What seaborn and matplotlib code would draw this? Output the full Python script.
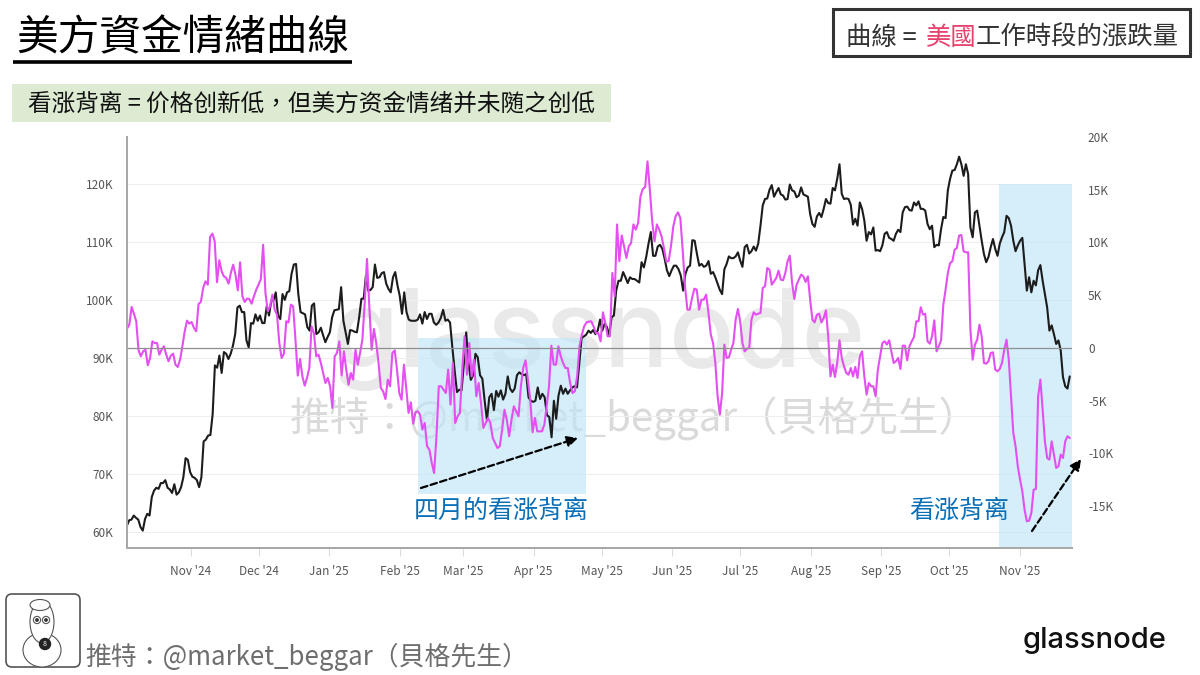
import pandas as pd
import matplotlib
matplotlib.use("Agg")
import matplotlib.pyplot as plt
import matplotlib.dates as mdates
from matplotlib.patches import Circle, Ellipse, FancyBboxPatch, Rectangle
from matplotlib.ticker import FuncFormatter
import seaborn as sns

# Bitcoin price, thousand USD, roughly one value per day, three stretches
price_a = [
    61.1, 62.0, 62.1, 62.8, 62.4, 62.1, 60.8, 60.2, 62.2, 63.1, 62.8, 66.0, 67.1, 67.6, 67.4, 68.4,
    68.4, 68.9, 67.6, 67.3, 66.7, 68.2, 66.4, 66.8, 67.7, 69.4, 72.7, 72.4, 70.3, 69.5, 69.3, 68.9,
    67.7, 69.4, 75.6, 75.9, 76.6, 76.7, 80.3, 88.7, 88.3, 90.4, 87.4, 91.0, 90.7, 89.8, 90.7, 92.1,
    94.1, 98.7, 99.0, 97.9, 97.9, 93.0, 91.8, 96.0, 95.9, 97.5, 96.4, 97.3, 96.0, 96.0, 98.9, 97.3,
    99.8, 99.9, 101.3, 97.3, 96.7, 101.0, 100.0, 101.3, 101.5, 104.5, 106.1, 106.2, 101.0, 97.9,
    97.7, 97.5, 95.3, 94.7, 99.0, 99.4, 94.1, 94.4, 95.2, 93.9, 92.7, 93.6, 94.4, 97.0, 98.2, 98.3,
    98.4, 102.2, 96.4, 94.4, 92.4, 94.8, 94.7, 94.5, 94.4, 97.0, 100.2, 100.2, 104.2, 101.6, 101.7,
    102.2, 106.1, 103.8, 103.9, 104.6, 104.8, 102.8, 101.9, 101.3, 103.9, 104.8, 102.5, 100.7, 97.6,
    101.3, 97.9, 96.6, 96.4, 96.4, 96.4, 96.6,
]
price_b = [
    97.5, 95.9, 97.9, 96.7, 97.6, 97.6, 96.1, 95.7, 96.1, 96.9, 98.3, 96.4, 96.6, 96.1, 91.8, 87.8,
    84.1, 84.5, 84.4, 89.0, 94.4, 89.0, 86.2, 87.0, 90.7, 90.1, 87.0, 86.4, 82.6, 79.2, 83.2, 83.8,
    81.0, 84.3, 83.3, 84.4, 82.8, 83.8, 86.8, 84.7, 84.1, 84.7, 87.0, 87.5, 87.2, 87.0, 87.2, 83.2,
    82.6, 82.4, 82.6, 84.9, 82.9, 83.8, 83.2, 80.1, 79.8, 76.3, 82.6, 79.5, 83.5, 85.2, 83.8, 84.7,
    83.8, 84.4, 84.9, 85.1, 84.9, 89.0, 93.4, 93.7, 94.0, 94.7, 94.3, 94.8, 94.1, 94.7, 96.6, 94.7,
    95.9, 95.3, 93.9, 97.0, 97.3, 101.6, 103.3, 103.3, 104.8, 103.9, 102.9, 103.9, 103.6, 103.6,
    103.3, 103.0, 106.5, 105.6, 107.4, 109.7, 111.7, 107.6, 107.6, 109.2, 109.5, 108.8, 107.1, 105.1,
    104.1, 105.1, 105.9, 105.9, 105.3, 104.2, 101.6, 104.5, 105.6, 105.9, 110.3, 110.2, 107.9, 105.9,
    106.2, 105.7, 105.9, 106.7, 104.5,
]
price_c = [
    104.8, 103.9, 102.8, 101.7, 101.0, 105.3, 106.2, 107.5, 107.2, 107.2, 107.5, 108.2, 106.8, 105.7,
    109.1, 109.5, 108.0, 108.4, 109.2, 108.5, 109.7, 112.8, 116.3, 117.4, 117.5, 119.0, 119.8, 117.8,
    118.6, 119.3, 118.2, 118.0, 117.3, 117.4, 119.9, 118.9, 118.7, 117.7, 118.0, 119.4, 118.2, 118.0,
    117.8, 114.8, 113.1, 112.6, 114.4, 115.0, 114.3, 115.7, 117.4, 116.7, 116.6, 119.3, 118.9, 120.9,
    123.4, 118.3, 117.4, 117.5, 117.4, 116.4, 113.0, 114.0, 112.8, 116.8, 115.7, 113.7, 110.2, 111.7,
    111.3, 112.5, 108.5, 108.6, 108.4, 109.4, 111.4, 111.7, 110.7, 110.5, 110.2, 111.4, 112.1, 111.7,
    115.1, 116.0, 116.1, 115.5, 115.4, 116.8, 116.3, 117.0, 115.7, 115.7, 115.4, 113.1, 112.2, 112.8,
    109.1, 109.5, 109.4, 112.2, 114.3, 114.1, 118.9, 120.9, 122.3, 122.4, 123.4, 124.7, 123.4, 121.4,
    123.4, 121.7, 112.5, 110.8, 115.1, 115.4, 112.8, 110.2, 107.9, 106.5, 107.4, 109.1, 110.5, 108.8,
    107.6, 109.7, 110.8, 111.7, 114.5, 114.1, 112.8, 110.2, 108.4, 109.4, 110.2, 110.7, 106.2, 101.6,
    103.9, 101.3, 103.3, 102.5, 105.1, 106.0, 103.3, 101.0, 98.7, 94.7, 95.6, 94.1, 92.4, 93.0, 91.3,
    86.7, 85.1, 84.7, 86.8,
]

# US session sentiment, thousand, same three stretches
sentiment_a = [
    1.83, 2.21, 3.89, 3.25, 2.53, -0.22, -0.79, -0.32, -0.16, -1.64, -0.95, 0.63, 0.47, 0.47, -0.63,
    -0.16, 0.16, -0.63, -1.26, -0.73, -0.54, -1.58, -1.80, -1.11, 0.16, 1.58, 2.59, 2.31, 2.46, 1.90,
    1.58, 4.17, 4.36, 5.69, 6.32, 6.00, 10.52, 10.84, 10.11, 6.23, 8.31, 7.27, 6.79, 6.64, 6.10, 7.11,
    7.90, 6.95, 5.47, 8.12, 4.90, 4.36, 4.68, 4.65, 4.20, 4.90, 5.53, 6.00, 6.54, 9.79, 5.21, 3.48,
    3.95, 5.06, 3.63, 3.16, 0.47, -0.95, -0.54, 2.53, 2.43, 4.11, 3.95, 0.79, -2.62, -1.04, -2.69,
    -3.57, -2.84, -1.90, 2.05, 1.42, -0.79, -0.63, -1.42, -2.37, -3.32, -2.84, -3.63, -5.69, -0.79,
    -0.47, 0.63, -2.62, -0.32, -2.05, -3.48, -2.37, -3.00, -0.16, -1.58, -0.47, 0.79, 4.27, 8.44, 3.95,
    -0.16, 1.80, 0.47, -1.42, -3.79, -4.11, -4.84, -3.00, -3.63, -0.47, -0.22, -2.05, -4.27, -4.90,
    -1.58, -3.79, -6.16, -5.15, -7.17, -6.10, -6.00,
]
sentiment_b = [
    -6.32, -7.74, -7.11, -9.32, -9.64, -10.90, -11.85, -8.37, -3.63, -3.63, -3.95, -4.27, -2.05, -5.37,
    -1.42, -7.11, -6.48, -6.16, -2.05, 1.11, -2.53, 0.47, -2.69, -1.11, -4.58, -3.32, -5.21, -7.58,
    -7.11, -6.64, -7.11, -8.53, -9.00, -9.48, -9.32, -7.74, -5.85, -6.79, -8.37, -6.79, -5.53, -6.00,
    -6.48, -3.63, -1.90, -1.17, -3.00, -4.90, -7.99, -6.64, -7.90, -7.90, -7.90, -7.27, -5.53, -3.63,
    0.22, -1.58, -1.58, 0.16, -0.79, -1.42, -1.90, -1.90, -3.32, -4.27, -4.11, -2.69, 0.16, 1.26, 2.05,
    2.43, 2.50, 2.53, 2.05, 1.42, 1.42, 0.63, 3.38, 2.37, 1.11, 1.11, 7.11, 4.90, 11.71, 8.22, 10.66,
    9.64, 8.53, 9.64, 9.95, 11.71, 11.22, 11.85, 14.38, 15.07, 15.26, 17.69, 15.00, 12.00, 10.11, 11.71,
    11.22, 10.58, 9.48, 8.22, 8.22, 9.64, 11.53, 12.48, 12.86, 12.32, 9.32, 5.85, 3.63, 3.63, 4.74,
    5.62, 5.53, 3.63, 4.58, 4.58, 5.06, 3.32, 1.26,
]
sentiment_c = [
    0.47, -1.42, -4.58, -6.32, -4.27, 0.32, -0.95, -0.88, -0.16, 0.47, 2.69, 3.70, 2.53, 0.47, -0.32,
    -0.06, 0.00, 2.69, 3.38, 3.16, 3.25, 3.32, 5.69, 5.85, 7.58, 7.43, 6.00, 6.32, 6.64, 7.33, 6.48,
    6.42, 7.11, 8.22, 8.75, 6.16, 4.65, 6.00, 6.48, 6.95, 6.79, 6.26, 6.79, 4.58, 2.69, 2.43, 3.16,
    3.25, 2.43, 2.84, 3.57, 1.11, -2.69, -1.58, -2.75, -1.42, 0.73, -0.95, -1.74, -2.37, -2.53, -1.90,
    -2.69, -1.80, -2.84, -0.79, -0.32, -2.69, -4.42, -3.32, -3.63, -3.63, -4.58, -2.05, -0.79, 0.47,
    0.63, 0.32, 0.73, -0.32, -1.42, -1.26, -0.95, -1.99, 0.22, 0.22, -1.17, 0.16, 0.63, 1.04, 2.53,
    2.53, 3.86, 3.16, 3.25, 0.63, 0.41, 1.11, 2.62, -0.32, 0.16, 0.73, 4.11, 5.53, 7.11, 8.06, 8.22,
    9.32, 9.48, 10.66, 10.71, 9.16, 9.07, 9.07, 1.74, -1.11, 0.32, 0.79, 2.21, 1.11, -1.42, -1.49,
    -1.26, -0.47, -0.41, -2.05, -2.21, -1.99, -1.42, -0.16, 0.79, -1.11, -4.58, -8.06, -9.32, -11.22,
    -12.48, -13.59, -15.33, -16.43, -16.37, -15.64, -13.43, -13.37, -4.58, -3.00, -5.85, -8.85, -10.43,
    -10.58, -8.85, -10.11, -11.37, -11.22, -10.11, -10.43, -8.85, -8.37, -8.53,
]

price_ticks = [60, 70, 80, 90, 100, 110, 120]
sentiment_ticks = [-15, -10, -5, 0, 5, 10, 15, 20]
stretch_days = [("2024-10-04", "2025-02-09"), ("2025-02-10", "2025-06-18"), ("2025-06-19", "2025-11-23")]

FONT = ["Noto Sans CJK TC", "DejaVu Sans"]
HANDLE = "推特：@market_beggar（貝格先生）"


def stretch_frame(parts):
    frames = []
    for values, (first, last) in zip(parts, stretch_days):
        frames.append(pd.DataFrame({"date": pd.date_range(first, last, periods=len(values)), "value": values}))
    return pd.concat(frames, ignore_index=True)


sns.set_theme(style="white")
plt.rcParams["font.family"] = FONT

fig = plt.figure(figsize=(12, 6.75), dpi=100)
W, H = 1200, 675

# watermark layer, sits under the chart
back = fig.add_axes([0, 0, 1, 1], zorder=0)
back.set_xlim(0, W)
back.set_ylim(H, 0)
back.axis("off")
back.text(599, 367, "glassnode", fontsize=78, family="Inter", fontweight="medium",
          color="#e9e9e9", ha="center", va="baseline")
back.text(635, 418, HANDLE, fontsize=29, color="#dadada", ha="center", va="center")

ax = fig.add_axes([127 / W, 1 - 548 / H, 945 / W, 411 / H], zorder=1)
ax.patch.set_alpha(0)

# highlighted windows
ax.fill_between(pd.to_datetime(["2025-02-09", "2025-04-24"]), 66.6, 93.4,
                color="#bfe6f8", alpha=0.65, lw=0)
ax.fill_between(pd.to_datetime(["2025-10-23", "2025-11-24"]), 57.2, 120,
                color="#bfe6f8", alpha=0.65, lw=0)

price = stretch_frame([price_a, price_b, price_c])
sns.lineplot(data=price, x="date", y="value", ax=ax, color="#1c1c1c", lw=1.5, zorder=3)
ax.set_xlim(pd.Timestamp("2024-10-04"), pd.Timestamp("2025-11-24"))
ax.set_ylim(57.2, 128.1)
ax.set_yticks(price_ticks)
ax.yaxis.set_major_formatter(FuncFormatter(lambda v, p: f"{v:.0f}K"))
ax.xaxis.set_major_locator(mdates.MonthLocator())
ax.xaxis.set_major_formatter(mdates.DateFormatter("%b '%y"))
ax.grid(axis="y", color="#eeeeee", lw=0.8)
ax.set_axisbelow(True)
ax.tick_params(axis="y", length=0, labelsize=8.5, labelcolor="#555555", pad=10)
ax.tick_params(axis="x", length=6, width=0.8, color="#dddddd", labelsize=8.5,
               labelcolor="#555555", pad=6.5, bottom=True)

ax2 = ax.twinx()
ax2.set_zorder(2)
sentiment = stretch_frame([sentiment_a, sentiment_b, sentiment_c])
sns.lineplot(data=sentiment, x="date", y="value", ax=ax2, color="#e34ff0", lw=1.5)
ax2.set_ylim(-18.96, 20)
ax2.set_yticks(sentiment_ticks)
ax2.yaxis.set_major_formatter(FuncFormatter(lambda v, p: "0" if v == 0 else f"{v:.0f}K"))
ax2.tick_params(axis="y", length=0, labelsize=8.5, labelcolor="#555555", pad=11.5)
ax2.axhline(0, color="#8f8f8f", lw=0.9)
ax.set_xlabel("")
ax.set_ylabel("")
ax2.set_xlabel("")
ax2.set_ylabel("")

for a in (ax, ax2):
    a.spines["top"].set_visible(False)
    a.spines["right"].set_visible(False)
    a.spines["left"].set_color("#a8a8a8")
    a.spines["left"].set_linewidth(1.4)
    a.spines["bottom"].set_color("#a8a8a8")
    a.spines["bottom"].set_linewidth(1.4)

# headings and notes, placed in figure pixels
top = fig.add_axes([0, 0, 1, 1], zorder=5)
top.set_xlim(0, W)
top.set_ylim(H, 0)
top.axis("off")

top.text(183, 39, "美方資金情緒曲線", fontsize=30, color="black", ha="center", va="center",
         fontweight="medium")
top.plot([13, 352], [62, 62], color="black", lw=2.6, solid_capstyle="butt")
top.add_patch(Rectangle((12, 84), 599, 38, color="#dcebd2", lw=0))
top.text(312, 104, "看涨背离 = 价格创新低，但美方资金情绪并未随之创低", fontsize=17,
         color="#111111", ha="center", va="center")

top.add_patch(Rectangle((833, 9), 357, 47, facecolor="white", edgecolor="#333333", lw=2.2))
top.text(846, 38, "曲線 =", fontsize=18.3, color="#333333", ha="left", va="center")
top.text(926, 38, "美國", fontsize=18.3, color="#e8436f", ha="left", va="center")
top.text(976, 38, "工作時段的漲跌量", fontsize=18.3, color="#333333", ha="left", va="center")

top.text(501, 511, "四月的看涨背离", fontsize=18, color="#0b6fb8", ha="center", va="center")
top.text(959, 511, "看涨背离", fontsize=18, color="#0b6fb8", ha="center", va="center")
for start, end in [((421, 488), (578, 438)), ((1032, 531), (1081, 459))]:
    top.annotate("", xy=end, xytext=start,
                 arrowprops=dict(arrowstyle="-|>", linestyle=(0, (3, 1.5)), color="black",
                                 lw=1.6, mutation_scale=16, shrinkA=0, shrinkB=0))

top.text(85, 657, HANDLE, fontsize=18.6, color="#6e6e6e", ha="left", va="center")
top.text(1095, 640, "glassnode", fontsize=21, family="Inter", fontweight="medium",
         color="#111111", ha="center", va="center")

# little avatar in the lower left corner
top.add_patch(FancyBboxPatch((6, 594), 74, 73, boxstyle="round,pad=0,rounding_size=6",
                             facecolor="white", edgecolor="#555555", lw=1.2))
line = dict(facecolor="white", edgecolor="#555555", lw=0.8)
top.add_patch(Ellipse((42, 650), 38, 34, **line))
top.add_patch(Ellipse((42, 622), 24, 42, **line))
top.add_patch(Ellipse((40, 605), 20, 11, **line))
top.add_patch(Circle((37, 620), 3.6, **line))
top.add_patch(Circle((46, 620), 3.6, **line))
top.add_patch(Circle((37, 620), 1.2, color="#333333"))
top.add_patch(Circle((46, 620), 1.2, color="#333333"))
top.add_patch(Circle((45, 644), 5.5, color="#222222"))
top.text(45, 644, "8", fontsize=5, color="white", ha="center", va="center")

fig.savefig("out.png", dpi=100)
